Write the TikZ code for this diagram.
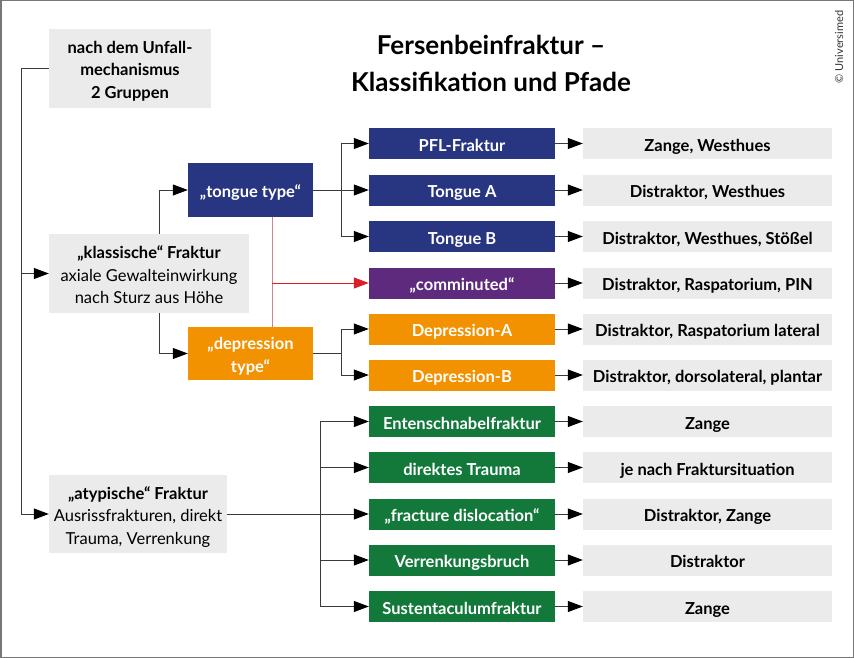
\documentclass[tikz,border=0pt]{standalone}
\usepackage{fontspec}
\setmainfont{Lato}
\usetikzlibrary{arrows.meta}
\definecolor{navy}{HTML}{283682}
\definecolor{purp}{HTML}{5E2A7E}
\definecolor{orng}{HTML}{F39200}
\definecolor{grn}{HTML}{13793B}
\definecolor{boxgray}{HTML}{EBEBEB}
\definecolor{linec}{HTML}{3A3A3A}
\definecolor{pinkl}{HTML}{D9808F}
\definecolor{redc}{HTML}{DA1F26}
\definecolor{framec}{HTML}{777777}
\begin{document}
\begin{tikzpicture}[x=1pt,y=-1pt,
  txt/.style={font=\fontsize{16.5}{22.5}\selectfont},
  btxt/.style={font=\fontsize{16.5}{22.5}\selectfont\bfseries},
  gbox/.style={fill=boxgray, inner sep=0pt, align=center, txt, text height=60pt, text depth=0pt},
  cbox/.style={fill=#1, text=white, inner sep=0pt, align=center, btxt},
  mid/.style={cbox=#1, minimum width=186pt, minimum height=31pt, text height=15pt, text depth=0pt},
  res/.style={fill=boxgray, inner sep=0pt, align=center, btxt, minimum width=249pt, minimum height=31pt, text height=15pt, text depth=0pt},
  ln/.style={draw=linec, line width=1pt},
  conn/.style={ln, -{Triangle[length=15pt,width=11pt,color=black]}},
]
\useasboundingbox (0,0) rectangle (854,658);
\draw[framec, line width=1.5pt] (0.75,0.75) rectangle (853.25,657.25);

% title
\node[font=\fontsize{26}{37}\selectfont\bfseries, align=center] (title) at (491,63) {Fersenbeinfraktur –\\Klassifikation und Pfade};
\node[rotate=90, font=\fontsize{11}{13}\selectfont, text=black!80] (copy) at (839,47) {© Universimed};

% left column
\node[gbox, btxt, minimum width=162pt, minimum height=79pt] (nach) at (130,68.5) {nach dem Unfall-\\mechanismus\\2 Gruppen};
\node[gbox, minimum width=200pt, minimum height=79pt] (klass) at (149,273.5) {{\bfseries „klassische“ Fraktur}\\axiale Gewalteinwirkung\\nach Sturz aus Höhe};
\node[gbox, minimum width=178pt, minimum height=78pt] (atyp) at (138,514) {{\bfseries „atypische“ Fraktur}\\Ausrissfrakturen, direkt\\Trauma, Verrenkung};

% second column
\node[cbox=navy, minimum width=125pt, minimum height=54pt, text height=15pt, text depth=0pt] (tongue) at (250.5,190) {„tongue type“};
\node[cbox=orng, minimum width=125pt, minimum height=53pt, text height=37pt, text depth=0pt] (depr) at (250.5,353.5) {„depression\\type“};

% middle column
\node[mid=navy] (pfl) at (462,143.5) {PFL-Fraktur};
\node[mid=navy] (ta) at (462,190) {Tongue A};
\node[mid=navy] (tb) at (462,236.5) {Tongue B};
\node[mid=purp] (comm) at (462,283) {„comminuted“};
\node[mid=orng] (da) at (462,329) {Depression-A};
\node[mid=orng] (db) at (462,375) {Depression-B};
\node[mid=grn] (ent) at (462,421.5) {Entenschnabelfraktur};
\node[mid=grn] (dir) at (462,467.5) {direktes Trauma};
\node[mid=grn] (frac) at (462,514) {„fracture dislocation“};
\node[mid=grn] (verr) at (462,560) {Verrenkungsbruch};
\node[mid=grn] (sust) at (462,606.5) {Sustentaculumfraktur};

% right column
\node[res] (r1) at (707.5,143.5) {Zange, Westhues};
\node[res] (r2) at (707.5,190) {Distraktor, Westhues};
\node[res] (r3) at (707.5,236.5) {Distraktor, Westhues, Stößel};
\node[res] (r4) at (707.5,283) {Distraktor, Raspatorium, PIN};
\node[res] (r5) at (707.5,329) {Distraktor, Raspatorium lateral};
\node[res] (r6) at (707.5,375) {Distraktor, dorsolateral, plantar};
\node[res] (r7) at (707.5,421.5) {Zange};
\node[res] (r8) at (707.5,467.5) {je nach Fraktursituation};
\node[res] (r9) at (707.5,514) {Distraktor, Zange};
\node[res] (r10) at (707.5,560) {Distraktor};
\node[res] (r11) at (707.5,606.5) {Zange};

% helper x positions
\coordinate (lx) at (21,0);
\coordinate (kx) at (159,0);
\coordinate (bx) at (341,0);
\coordinate (rx) at (272,0);
\coordinate (gx) at (320,0);

% left trunk
\draw[ln] (nach.west) -- (nach.west -| lx) -- (atyp.west -| lx);
\draw[conn] (atyp.west -| lx) -- (atyp.west);
\draw[conn] (klass.west -| lx) -- (klass.west);

% klassische to tongue / depression
\draw[conn] (klass.north -| kx) |- (tongue.west);
\draw[conn] (klass.south -| kx) |- (depr.west);

% tongue branches
\draw[conn] (tongue.east) -- (ta.west);
\draw[conn] (tongue.east -| bx) |- (pfl.west);
\draw[conn] (tongue.east -| bx) |- (tb.west);

% depression branches
\draw[ln] (depr.east) -- (depr.east -| bx);
\draw[conn] (depr.east -| bx) |- (da.west);
\draw[conn] (depr.east -| bx) |- (db.west);

% comminuted (red)
\draw[pinkl, line width=1pt] (tongue.south -| rx) -- (depr.north -| rx);
\draw[redc, line width=1pt, -{Triangle[length=15pt,width=11pt]}] (comm.west -| rx) -- (comm.west);

% atypische branches
\draw[conn] (atyp.east) -- (frac.west);
\draw[ln] (ent.west -| gx) -- (sust.west -| gx);
\draw[conn] (ent.west -| gx) -- (ent.west);
\draw[conn] (dir.west -| gx) -- (dir.west);
\draw[conn] (verr.west -| gx) -- (verr.west);
\draw[conn] (sust.west -| gx) -- (sust.west);

% middle to right
\foreach \m/\r in {pfl/r1,ta/r2,tb/r3,comm/r4,da/r5,db/r6,ent/r7,dir/r8,frac/r9,verr/r10,sust/r11}
  \draw[conn] (\m.east) -- (\r.west);
\end{tikzpicture}
\end{document}
